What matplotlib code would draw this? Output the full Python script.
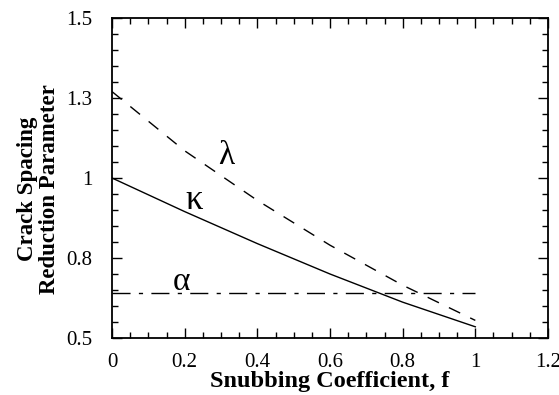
import matplotlib
matplotlib.use("Agg")
import matplotlib.pyplot as plt
from matplotlib.ticker import FixedLocator, FixedFormatter, MultipleLocator

# values
f = [0.0, 0.2, 0.4, 0.6, 0.8, 1.0]
lam = [1.27, 1.085, 0.93, 0.79, 0.665, 0.555]
kappa = [1.0, 0.895, 0.795, 0.70, 0.612, 0.535]
alpha = [0.64, 0.64, 0.64, 0.64, 0.64, 0.64]

xticks = [0, 0.2, 0.4, 0.6, 0.8, 1.0, 1.2]
xticklabels = ["0", "0.2", "0.4", "0.6", "0.8", "1", "1.2"]
yticks = [0.5, 0.75, 1.0, 1.25, 1.5]
yticklabels = ["0.5", "0.8", "1", "1.3", "1.5"]

plt.rcParams["font.family"] = ["Liberation Serif", "DejaVu Serif"]

fig = plt.figure(figsize=(5.59, 3.95), dpi=100)
ax = fig.add_axes([0.2004, 0.1443, 0.7799, 0.8101])

ax.plot(f, lam, color="black", lw=1.0, dashes=(9, 8))
ax.plot(f, kappa, color="black", lw=1.0)
ax.plot(f, alpha, color="black", lw=1.0, dashes=(13, 6, 3, 6))

ax.text(0.313, 1.07, "λ", fontsize=24, ha="center", va="center")
ax.text(0.225, 0.93, "κ", fontsize=25, ha="center", va="center")
ax.text(0.19, 0.675, "α", fontsize=24, ha="center", va="center")

ax.set_xlim(0, 1.2)
ax.set_ylim(0.5, 1.5)
ax.xaxis.set_major_locator(FixedLocator(xticks))
ax.xaxis.set_major_formatter(FixedFormatter(xticklabels))
ax.yaxis.set_major_locator(FixedLocator(yticks))
ax.yaxis.set_major_formatter(FixedFormatter(yticklabels))
ax.xaxis.set_minor_locator(MultipleLocator(0.05))
ax.yaxis.set_minor_locator(MultipleLocator(0.05))

ax.tick_params(which="both", direction="in", top=True, right=True,
               width=1.0, labelsize=15)
ax.tick_params(which="major", length=7)
ax.tick_params(which="minor", length=4)
ax.tick_params(axis="x", pad=11)
ax.tick_params(axis="y", pad=14)
for s in ax.spines.values():
    s.set_linewidth(1.3)

ax.set_xlabel("Snubbing Coefficient, f", fontsize=17.5, fontweight="bold",
              labelpad=-1)
ax.set_ylabel("Crack Spacing\nReduction Parameter", fontsize=16.5,
              fontweight="bold", linespacing=1.05, labelpad=5, y=0.466)

fig.savefig("out.png", dpi=100)
